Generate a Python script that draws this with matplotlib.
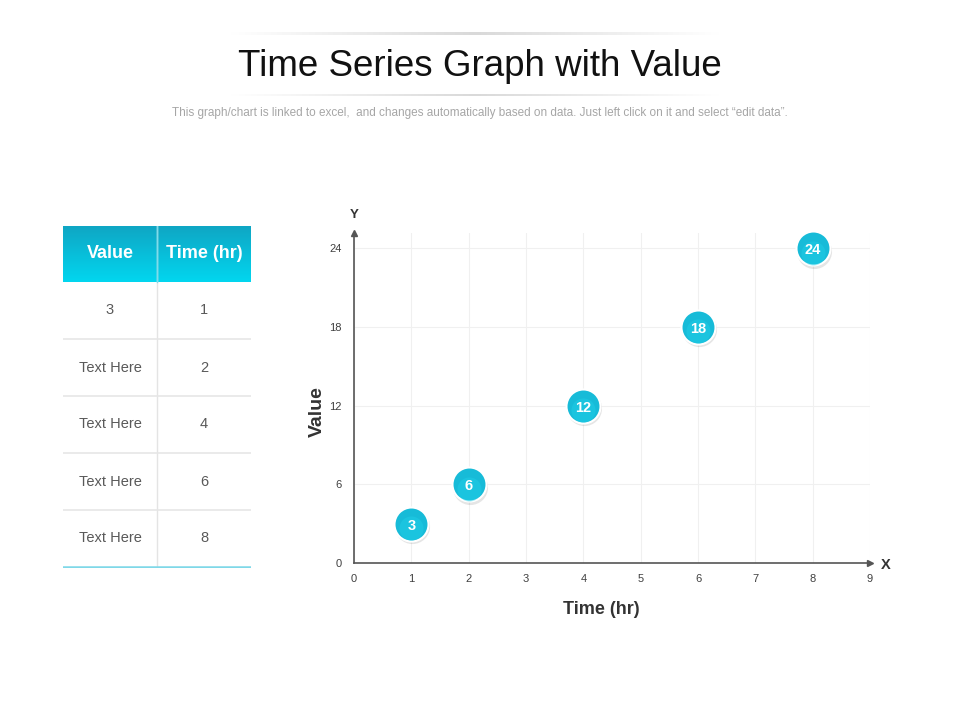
import numpy as np
import matplotlib
matplotlib.use("Agg")
import matplotlib.pyplot as plt
from matplotlib.colors import LinearSegmentedColormap

plt.rcParams['font.family'] = ['Liberation Sans', 'DejaVu Sans']

# data
times = [1, 2, 4, 6, 8]
values = [3, 6, 12, 18, 24]
table_headers = ['Value', 'Time (hr)']
table_col1 = ['3', 'Text Here', 'Text Here', 'Text Here', 'Text Here']
table_col2 = ['1', '2', '4', '6', '8']
x_ticks = list(range(0, 10))
y_ticks = [0, 6, 12, 18, 24]

title = 'Time Series Graph with Value'
subtitle = ('This graph/chart is linked to excel,  and changes automatically based on data. '
            'Just left click on it and select \u201cedit data\u201d.')

teal = '#17bbd8'
header_cmap = LinearSegmentedColormap.from_list('hdr', ['#0fa6c4', '#02d6ef'])

fig = plt.figure(figsize=(9.6, 7.2), dpi=100)
fig.patch.set_facecolor('white')

# title area with faint rules
fig.text(0.5, 0.908, title, ha='center', va='center', fontsize=26.5, color='#111111')
fig.text(0.5, 0.843, subtitle, ha='center', va='center', fontsize=8.5, color='#a6a6a6')
rule_cmap = LinearSegmentedColormap.from_list('rule', ['#ffffff', '#d9d9d9', '#ffffff'])
for yy in (0.954, 0.868):
    rax = fig.add_axes([0.24, yy - 0.002, 0.51, 0.004])
    rax.imshow(np.linspace(0, 1, 200)[None, :], aspect='auto', cmap=rule_cmap)
    rax.axis('off')

# table on the left (pixel-like units)
tax = fig.add_axes([63 / 960, 1 - 568 / 720, 188 / 960, 342 / 720])
tax.set_xlim(0, 188)
tax.set_ylim(342, 0)
tax.axis('off')
header_h = 56
row_h = 57
col_split = 94
tax.imshow(np.linspace(0, 1, 100)[:, None], extent=(0, 188, header_h, 0),
           aspect='auto', cmap=header_cmap, zorder=1)
tax.plot([col_split, col_split], [0, header_h + row_h * 5], color='#e4e4e4', lw=1, zorder=2)
tax.plot([col_split, col_split], [0, header_h], color='#7fdcec', lw=1, zorder=3)
tax.text(col_split / 2, header_h / 2, table_headers[0], ha='center', va='center',
         fontsize=13, fontweight='bold', color='white', zorder=4)
tax.text((col_split + 188) / 2, header_h / 2, table_headers[1], ha='center', va='center',
         fontsize=13, fontweight='bold', color='white', zorder=4)
for i, (a, b) in enumerate(zip(table_col1, table_col2)):
    yc = header_h + row_h * (i + 0.5)
    tax.text(col_split / 2, yc, a, ha='center', va='center', fontsize=10.5, color='#595959')
    tax.text((col_split + 188) / 2, yc, b, ha='center', va='center', fontsize=10.5, color='#595959')
    y_line = header_h + row_h * (i + 1)
    if i < len(table_col1) - 1:
        tax.plot([0, 188], [y_line, y_line], color='#e6e6e6', lw=1.2)
    else:
        tax.plot([0, 188], [y_line, y_line], color='#7fd8e8', lw=1.8)

# scatter chart
ax = fig.add_axes([354 / 960, 1 - 563 / 720, 516 / 960, 330 / 720])
ax.set_xlim(0, 9)
ax.set_ylim(0, 25.15)
ax.set_xticks(x_ticks)
ax.set_yticks(y_ticks)
ax.grid(True, color='#f0f0f0', lw=0.8)
ax.set_axisbelow(True)
for s in ('top', 'right'):
    ax.spines[s].set_visible(False)
for s in ('left', 'bottom'):
    ax.spines[s].set_color('#555555')
    ax.spines[s].set_linewidth(1.2)
ax.tick_params(length=0, labelsize=8, labelcolor='#404040', pad=8)
ax.tick_params(axis='y', pad=9)
# arrow heads
ax.plot(1, 0, '>', color='#555555', ms=5, transform=ax.transAxes, clip_on=False)
ax.plot(0, 1, '^', color='#555555', ms=5, transform=ax.transAxes, clip_on=False)
ax.text(1.03, -0.005, 'X', transform=ax.transAxes, ha='center', va='center', fontsize=10.5,
        fontweight='bold', color='#333333')
ax.text(0, 1.055, 'Y', transform=ax.transAxes, ha='center', va='center', fontsize=9.5,
        fontweight='bold', color='#333333')
ax.set_xlabel('Time (hr)', fontsize=13, fontweight='bold', color='#333333')
ax.set_ylabel('Value', fontsize=14, fontweight='bold', color='#333333')
ax.xaxis.set_label_coords(0.479, -0.115)
ax.yaxis.set_label_coords(-0.055, 0.46)

# markers with shadow, white rim and value labels
ax.scatter(np.array(times) + 0.02, np.array(values) - 0.2, s=640, color='#000000',
           alpha=0.10, lw=0, zorder=3, clip_on=False)
ax.scatter(times, values, s=600, color=teal, edgecolors='white', linewidths=1.5,
           zorder=4, clip_on=False)
ax.scatter(times, np.array(values) - 0.35, s=300, color='#22d3ec', alpha=0.4, lw=0,
           zorder=5, clip_on=False)
for t, v in zip(times, values):
    ax.text(t, v - 0.15, str(v), ha='center', va='center', fontsize=10.5, fontweight='bold',
            color='white', zorder=6)

fig.savefig('out.png', dpi=100, facecolor='white')
